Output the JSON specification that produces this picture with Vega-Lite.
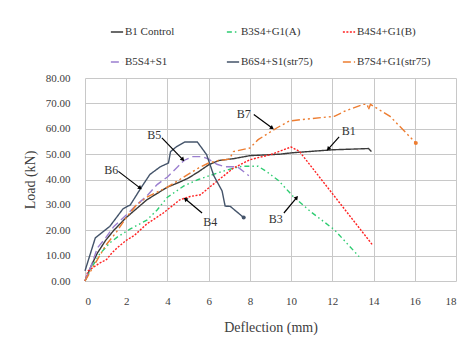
{
  "$schema": "https://vega.github.io/schema/vega-lite/v6.json",
  "autosize": {"type": "none"},
  "width": 371,
  "height": 203,
  "padding": {"left": 85, "top": 78, "right": 3, "bottom": 66},
  "background": "white",
  "config": {
    "font": "Times New Roman, Liberation Serif, serif",
    "view": {"stroke": null},
    "text": {"font": "Times New Roman, Liberation Serif, serif"},
    "legend": {"labelFont": "Times New Roman, Liberation Serif, serif"},
    "axis": {"labelFont": "Times New Roman, Liberation Serif, serif", "titleFont": "Times New Roman, Liberation Serif, serif", "labelColor": "#404040", "titleColor": "#404040", "titleFontWeight": "normal", "gridColor": "#c8c8c8", "gridWidth": 1, "domain": false, "ticks": false}
  },
  "datasets": {
    "curves": [
      {"s": "B1 Control", "x": 0, "y": 0}, {"s": "B1 Control", "x": 0.3, "y": 6}, {"s": "B1 Control", "x": 0.6, "y": 11}, {"s": "B1 Control", "x": 1, "y": 16}, {"s": "B1 Control", "x": 1.4, "y": 20}, {"s": "B1 Control", "x": 2, "y": 25}, {"s": "B1 Control", "x": 2.5, "y": 28.5}, {"s": "B1 Control", "x": 3, "y": 32}, {"s": "B1 Control", "x": 3.5, "y": 34.5}, {"s": "B1 Control", "x": 4, "y": 37}, {"s": "B1 Control", "x": 4.6, "y": 39}, {"s": "B1 Control", "x": 5, "y": 40.5}, {"s": "B1 Control", "x": 5.5, "y": 43}, {"s": "B1 Control", "x": 6, "y": 45.8}, {"s": "B1 Control", "x": 6.5, "y": 47.5}, {"s": "B1 Control", "x": 7.2, "y": 48.2}, {"s": "B1 Control", "x": 8, "y": 49.4}, {"s": "B1 Control", "x": 9.5, "y": 50}, {"s": "B1 Control", "x": 10, "y": 50.5}, {"s": "B1 Control", "x": 12, "y": 51.7}, {"s": "B1 Control", "x": 13.75, "y": 52.2}, {"s": "B1 Control", "x": 13.9, "y": 51},
      {"s": "B3S4+G1(A)", "x": 0, "y": 0}, {"s": "B3S4+G1(A)", "x": 0.3, "y": 5}, {"s": "B3S4+G1(A)", "x": 0.7, "y": 10.5}, {"s": "B3S4+G1(A)", "x": 1.2, "y": 15}, {"s": "B3S4+G1(A)", "x": 1.6, "y": 17.5}, {"s": "B3S4+G1(A)", "x": 2.2, "y": 20.5}, {"s": "B3S4+G1(A)", "x": 3, "y": 24}, {"s": "B3S4+G1(A)", "x": 3.5, "y": 28}, {"s": "B3S4+G1(A)", "x": 4, "y": 33}, {"s": "B3S4+G1(A)", "x": 4.8, "y": 37.5}, {"s": "B3S4+G1(A)", "x": 5.5, "y": 40}, {"s": "B3S4+G1(A)", "x": 6.4, "y": 42.5}, {"s": "B3S4+G1(A)", "x": 7, "y": 44}, {"s": "B3S4+G1(A)", "x": 7.6, "y": 45.2}, {"s": "B3S4+G1(A)", "x": 8.4, "y": 45.2}, {"s": "B3S4+G1(A)", "x": 8.8, "y": 43.2}, {"s": "B3S4+G1(A)", "x": 9.4, "y": 39.5}, {"s": "B3S4+G1(A)", "x": 10.1, "y": 33.3}, {"s": "B3S4+G1(A)", "x": 11, "y": 27}, {"s": "B3S4+G1(A)", "x": 12.1, "y": 20.2}, {"s": "B3S4+G1(A)", "x": 13.3, "y": 9.6},
      {"s": "B4S4+G1(B)", "x": 0, "y": 0}, {"s": "B4S4+G1(B)", "x": 0.15, "y": 4}, {"s": "B4S4+G1(B)", "x": 0.7, "y": 7}, {"s": "B4S4+G1(B)", "x": 1.05, "y": 8.5}, {"s": "B4S4+G1(B)", "x": 1.3, "y": 11}, {"s": "B4S4+G1(B)", "x": 1.55, "y": 13}, {"s": "B4S4+G1(B)", "x": 2, "y": 16}, {"s": "B4S4+G1(B)", "x": 2.4, "y": 18}, {"s": "B4S4+G1(B)", "x": 3, "y": 22.5}, {"s": "B4S4+G1(B)", "x": 3.8, "y": 26.8}, {"s": "B4S4+G1(B)", "x": 4.6, "y": 32}, {"s": "B4S4+G1(B)", "x": 5.1, "y": 33.3}, {"s": "B4S4+G1(B)", "x": 5.6, "y": 34}, {"s": "B4S4+G1(B)", "x": 6.4, "y": 39.3}, {"s": "B4S4+G1(B)", "x": 7.2, "y": 44.5}, {"s": "B4S4+G1(B)", "x": 8, "y": 47.8}, {"s": "B4S4+G1(B)", "x": 9, "y": 49.8}, {"s": "B4S4+G1(B)", "x": 10, "y": 52.8}, {"s": "B4S4+G1(B)", "x": 10.4, "y": 51.1}, {"s": "B4S4+G1(B)", "x": 13.95, "y": 14.2},
      {"s": "B5S4+S1", "x": 0, "y": 0}, {"s": "B5S4+S1", "x": 0.3, "y": 6}, {"s": "B5S4+S1", "x": 0.6, "y": 13}, {"s": "B5S4+S1", "x": 1, "y": 17}, {"s": "B5S4+S1", "x": 1.4, "y": 21.5}, {"s": "B5S4+S1", "x": 2, "y": 26}, {"s": "B5S4+S1", "x": 2.5, "y": 30}, {"s": "B5S4+S1", "x": 3, "y": 33.5}, {"s": "B5S4+S1", "x": 3.5, "y": 38}, {"s": "B5S4+S1", "x": 4, "y": 41}, {"s": "B5S4+S1", "x": 4.5, "y": 45}, {"s": "B5S4+S1", "x": 4.8, "y": 47.5}, {"s": "B5S4+S1", "x": 5.2, "y": 49}, {"s": "B5S4+S1", "x": 5.7, "y": 49}, {"s": "B5S4+S1", "x": 6, "y": 48}, {"s": "B5S4+S1", "x": 6.4, "y": 46}, {"s": "B5S4+S1", "x": 6.8, "y": 45}, {"s": "B5S4+S1", "x": 7.4, "y": 45}, {"s": "B5S4+S1", "x": 7.95, "y": 41.5},
      {"s": "B6S4+S1(str75)", "x": 0, "y": 4}, {"s": "B6S4+S1(str75)", "x": 0.5, "y": 17}, {"s": "B6S4+S1(str75)", "x": 1.2, "y": 21.5}, {"s": "B6S4+S1(str75)", "x": 1.85, "y": 28.5}, {"s": "B6S4+S1(str75)", "x": 2.2, "y": 30}, {"s": "B6S4+S1(str75)", "x": 2.7, "y": 36.5}, {"s": "B6S4+S1(str75)", "x": 3.15, "y": 42}, {"s": "B6S4+S1(str75)", "x": 3.65, "y": 45}, {"s": "B6S4+S1(str75)", "x": 4.05, "y": 46.5}, {"s": "B6S4+S1(str75)", "x": 4.15, "y": 51}, {"s": "B6S4+S1(str75)", "x": 4.45, "y": 53}, {"s": "B6S4+S1(str75)", "x": 4.85, "y": 54.8}, {"s": "B6S4+S1(str75)", "x": 5.45, "y": 54.8}, {"s": "B6S4+S1(str75)", "x": 5.9, "y": 49.8}, {"s": "B6S4+S1(str75)", "x": 6.25, "y": 41.5}, {"s": "B6S4+S1(str75)", "x": 6.65, "y": 35.5}, {"s": "B6S4+S1(str75)", "x": 6.8, "y": 29.5}, {"s": "B6S4+S1(str75)", "x": 7.05, "y": 29.4}, {"s": "B6S4+S1(str75)", "x": 7.7, "y": 25},
      {"s": "B7S4+G1(str75)", "x": 0, "y": 0}, {"s": "B7S4+G1(str75)", "x": 0.5, "y": 7}, {"s": "B7S4+G1(str75)", "x": 1, "y": 14}, {"s": "B7S4+G1(str75)", "x": 1.5, "y": 19}, {"s": "B7S4+G1(str75)", "x": 2, "y": 25}, {"s": "B7S4+G1(str75)", "x": 2.5, "y": 30}, {"s": "B7S4+G1(str75)", "x": 3, "y": 33}, {"s": "B7S4+G1(str75)", "x": 3.5, "y": 35}, {"s": "B7S4+G1(str75)", "x": 4, "y": 37}, {"s": "B7S4+G1(str75)", "x": 4.5, "y": 39.5}, {"s": "B7S4+G1(str75)", "x": 5, "y": 42}, {"s": "B7S4+G1(str75)", "x": 5.5, "y": 44.5}, {"s": "B7S4+G1(str75)", "x": 6, "y": 46.5}, {"s": "B7S4+G1(str75)", "x": 6.5, "y": 47.5}, {"s": "B7S4+G1(str75)", "x": 7, "y": 48}, {"s": "B7S4+G1(str75)", "x": 7.2, "y": 51}, {"s": "B7S4+G1(str75)", "x": 8, "y": 52.4}, {"s": "B7S4+G1(str75)", "x": 8.4, "y": 55.7}, {"s": "B7S4+G1(str75)", "x": 9.3, "y": 60.3}, {"s": "B7S4+G1(str75)", "x": 9.9, "y": 63}, {"s": "B7S4+G1(str75)", "x": 10.5, "y": 63.6}, {"s": "B7S4+G1(str75)", "x": 12.1, "y": 64.9}, {"s": "B7S4+G1(str75)", "x": 12.6, "y": 66.9}, {"s": "B7S4+G1(str75)", "x": 13.5, "y": 69.6}, {"s": "B7S4+G1(str75)", "x": 13.7, "y": 69.6}, {"s": "B7S4+G1(str75)", "x": 13.75, "y": 67.5}, {"s": "B7S4+G1(str75)", "x": 13.85, "y": 69.6}, {"s": "B7S4+G1(str75)", "x": 14.8, "y": 64.9}, {"s": "B7S4+G1(str75)", "x": 16.05, "y": 54.4}
    ],
    "ends": [
      {"s": "B6S4+S1(str75)", "x": 7.7, "y": 25},
      {"s": "B7S4+G1(str75)", "x": 16.05, "y": 54.4}
    ],
    "arrows": [
      {"label": "B1", "x": 12.33, "y": 56.8, "x2": 11.8, "y2": 52},
      {"label": "B3", "x": 9.65, "y": 26.8, "x2": 10.27, "y2": 32.9},
      {"label": "B4", "x": 5.68, "y": 26.8, "x2": 4.87, "y2": 32.3},
      {"label": "B5", "x": 3.73, "y": 56.4, "x2": 4.75, "y2": 47.8},
      {"label": "B6", "x": 1.62, "y": 43.2, "x2": 2.68, "y2": 36.6},
      {"label": "B7", "x": 8.19, "y": 65.6, "x2": 9.08, "y2": 60.3}
    ],
    "tips": [
      {"label": "B1", "x": 11.8, "y": 52, "fromx": 12.33, "fromy": 56.8},
      {"label": "B3", "x": 10.27, "y": 32.9, "fromx": 9.65, "fromy": 26.8},
      {"label": "B4", "x": 4.87, "y": 32.3, "fromx": 5.68, "fromy": 26.8},
      {"label": "B5", "x": 4.75, "y": 47.8, "fromx": 3.73, "fromy": 56.4},
      {"label": "B6", "x": 2.68, "y": 36.6, "fromx": 1.62, "fromy": 43.2},
      {"label": "B7", "x": 9.08, "y": 60.3, "fromx": 8.19, "fromy": 65.6}
    ],
    "labels": [
      {"label": "B1", "x": 12.8, "y": 59},
      {"label": "B3", "x": 9.25, "y": 24.4},
      {"label": "B4", "x": 6.08, "y": 23.4},
      {"label": "B5", "x": 3.36, "y": 57.7},
      {"label": "B6", "x": 1.27, "y": 43.9},
      {"label": "B7", "x": 7.7, "y": 66}
    ]
  },
  "encoding": {
    "x": {"field": "x", "type": "quantitative", "scale": {"domain": [0, 18], "nice": false},
      "axis": {"title": "Deflection (mm)", "values": [0, 2, 4, 6, 8, 10, 12, 14, 16, 18], "labelOverlap": false, "labelFontSize": 11, "titleFontSize": 14, "labelPadding": 14, "titlePadding": 14}},
    "y": {"field": "y", "type": "quantitative", "scale": {"domain": [0, 80], "nice": false},
      "axis": {"title": "Load (kN)", "values": [0, 10, 20, 30, 40, 50, 60, 70, 80], "format": ".2f", "labelOverlap": false, "labelFontSize": 11, "titleFontSize": 14, "labelPadding": 15, "titlePadding": 8}}
  },
  "layer": [
    {
      "data": {"name": "curves"},
      "mark": {"type": "line", "strokeWidth": 1.4},
      "encoding": {
        "color": {"field": "s", "type": "nominal",
          "scale": {"domain": ["B1 Control", "B3S4+G1(A)", "B4S4+G1(B)", "B5S4+S1", "B6S4+S1(str75)", "B7S4+G1(str75)"], "range": ["#3a3a3a", "#2ecc71", "#ff2020", "#9b7fd0", "#44546a", "#ed7d31"]},
          "legend": {"title": null, "orient": "none", "legendX": 25, "legendY": -53, "columns": 3, "direction": "horizontal", "gridAlign": "all", "columnPadding": 24, "rowPadding": 18, "symbolType": "stroke", "symbolSize": 150, "symbolStrokeWidth": 1.5, "labelFontSize": 11, "labelColor": "#333333", "labelOffset": 1}},
        "strokeDash": {"field": "s", "type": "nominal",
          "scale": {"domain": ["B1 Control", "B3S4+G1(A)", "B4S4+G1(B)", "B5S4+S1", "B6S4+S1(str75)", "B7S4+G1(str75)"], "range": [[1, 0], [5, 3, 1.5, 3, 1.5, 3], [2, 1.5], [8, 4], [1, 0], [8, 3, 2, 3, 2, 3]]},
          "legend": null}
      }
    },
    {
      "data": {"name": "ends"},
      "mark": {"type": "point", "filled": true, "size": 16, "opacity": 1},
      "encoding": {
        "color": {"field": "s", "type": "nominal", "legend": null}
      }
    },
    {
      "data": {"name": "arrows"},
      "mark": {"type": "rule", "color": "black", "strokeWidth": 1.2},
      "encoding": {
        "x2": {"field": "x2"},
        "y2": {"field": "y2"}
      }
    },
    {
      "data": {"name": "tips"},
      "transform": [{"calculate": "atan2((datum.x - datum.fromx) * 20.6, (datum.y - datum.fromy) * 2.54) * 180 / PI", "as": "ang"}],
      "mark": {"type": "point", "shape": "triangle-up", "filled": true, "color": "black", "size": 22, "opacity": 1},
      "encoding": {
        "angle": {"field": "ang", "type": "quantitative", "scale": null}
      }
    },
    {
      "data": {"name": "labels"},
      "mark": {"type": "text", "fontSize": 12, "color": "#333333"},
      "encoding": {
        "text": {"field": "label"}
      }
    }
  ]
}
